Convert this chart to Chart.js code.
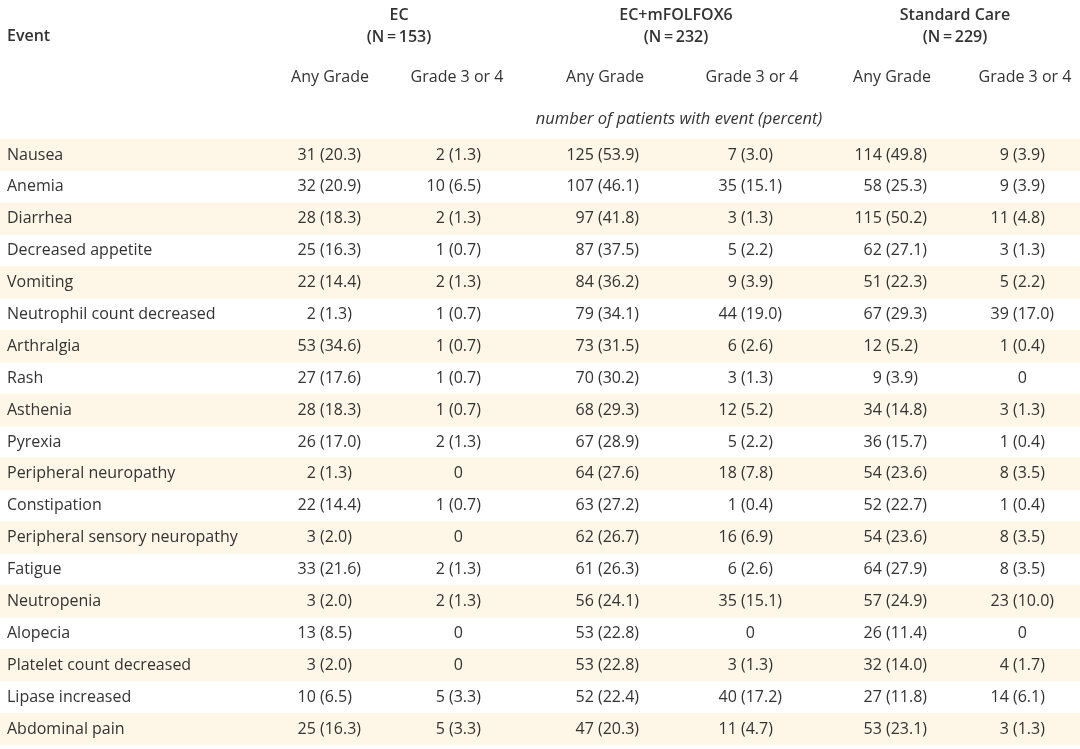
<!DOCTYPE html>
<html>
<head>
<meta charset="utf-8">
<script src="https://cdn.jsdelivr.net/npm/chart.js@4.4.1/dist/chart.umd.min.js"></script>
<style>
  html, body { margin: 0; padding: 0; background: #fff; }
  #wrap { width: 1080px; height: 749px; position: relative; }
</style>
</head>
<body>
<div id="wrap"><canvas id="aeTable"></canvas></div>
<script>
const events = [
    'Nausea', 'Anemia', 'Diarrhea', 'Decreased appetite', 'Vomiting',
    'Neutrophil count decreased', 'Arthralgia', 'Rash', 'Asthenia', 'Pyrexia',
    'Peripheral neuropathy', 'Constipation', 'Peripheral sensory neuropathy',
    'Fatigue', 'Neutropenia', 'Alopecia', 'Platelet count decreased',
    'Lipase increased', 'Abdominal pain'
];

// EC (N=153)
const ecAnyN     = [31, 32, 28, 25, 22, 2, 53, 27, 28, 26, 2, 22, 3, 33, 3, 13, 3, 10, 25];
const ecAnyPct   = [20.3, 20.9, 18.3, 16.3, 14.4, 1.3, 34.6, 17.6, 18.3, 17.0, 1.3, 14.4, 2.0, 21.6, 2.0, 8.5, 2.0, 6.5, 16.3];
const ecG34N     = [2, 10, 2, 1, 2, 1, 1, 1, 1, 2, 0, 1, 0, 2, 2, 0, 0, 5, 5];
const ecG34Pct   = [1.3, 6.5, 1.3, 0.7, 1.3, 0.7, 0.7, 0.7, 0.7, 1.3, null, 0.7, null, 1.3, 1.3, null, null, 3.3, 3.3];

// EC+mFOLFOX6 (N=232)
const foxAnyN    = [125, 107, 97, 87, 84, 79, 73, 70, 68, 67, 64, 63, 62, 61, 56, 53, 53, 52, 47];
const foxAnyPct  = [53.9, 46.1, 41.8, 37.5, 36.2, 34.1, 31.5, 30.2, 29.3, 28.9, 27.6, 27.2, 26.7, 26.3, 24.1, 22.8, 22.8, 22.4, 20.3];
const foxG34N    = [7, 35, 3, 5, 9, 44, 6, 3, 12, 5, 18, 1, 16, 6, 35, 0, 3, 40, 11];
const foxG34Pct  = [3.0, 15.1, 1.3, 2.2, 3.9, 19.0, 2.6, 1.3, 5.2, 2.2, 7.8, 0.4, 6.9, 2.6, 15.1, null, 1.3, 17.2, 4.7];

// Standard Care (N=229)
const scAnyN     = [114, 58, 115, 62, 51, 67, 12, 9, 34, 36, 54, 52, 54, 64, 57, 26, 32, 27, 53];
const scAnyPct   = [49.8, 25.3, 50.2, 27.1, 22.3, 29.3, 5.2, 3.9, 14.8, 15.7, 23.6, 22.7, 23.6, 27.9, 24.9, 11.4, 14.0, 11.8, 23.1];
const scG34N     = [9, 9, 11, 3, 5, 39, 1, 0, 3, 1, 8, 1, 8, 8, 23, 0, 4, 14, 3];
const scG34Pct   = [3.9, 3.9, 4.8, 1.3, 2.2, 17.0, 0.4, null, 1.3, 0.4, 3.5, 0.4, 3.5, 3.5, 10.0, null, 1.7, 6.1, 1.3];

const groupTitles = ['EC', 'EC+mFOLFOX6', 'Standard Care'];
const groupSizes  = ['(N\u2009=\u2009153)', '(N\u2009=\u2009232)', '(N\u2009=\u2009229)'];
const subHeaders  = ['Any Grade', 'Grade 3 or 4', 'Any Grade', 'Grade 3 or 4', 'Any Grade', 'Grade 3 or 4'];
const unitNote    = 'number of patients with event (percent)';

// layout (x in the 0..1080 units of the x scale); numbers line up on the "("
const columns = [
    { n: ecAnyN,  pct: ecAnyPct,  paren: 320, head: 330 },
    { n: ecG34N,  pct: ecG34Pct,  paren: 449, head: 457 },
    { n: foxAnyN, pct: foxAnyPct, paren: 598, head: 605 },
    { n: foxG34N, pct: foxG34Pct, paren: 741, head: 752 },
    { n: scAnyN,  pct: scAnyPct,  paren: 886, head: 892 },
    { n: scG34N,  pct: scG34Pct,  paren: 1013, head: 1025 }
];
const groupCenters = [399, 676, 955];

const textColor = '#333333';
const stripeColor = '#fef7e7';
const regular = '16px "Open Sans", "DejaVu Sans", sans-serif';
const bold = '600 16px "Open Sans", "DejaVu Sans", sans-serif';
const italic = 'italic 16.5px "Open Sans", "DejaVu Sans", sans-serif';

const tableText = {
    id: 'tableText',
    afterDatasetsDraw(chart) {
        const { ctx, chartArea, scales: { x, y } } = chart;
        const top = chartArea.top;
        ctx.save();
        ctx.fillStyle = textColor;
        ctx.textBaseline = 'middle';

        // header
        ctx.font = bold;
        ctx.textAlign = 'left';
        ctx.fillText('Event', x.getPixelForValue(7), top - 103);
        ctx.textAlign = 'center';
        groupTitles.forEach((t, i) => {
            ctx.fillText(t, x.getPixelForValue(groupCenters[i]), top - 124);
            ctx.fillText(groupSizes[i], x.getPixelForValue(groupCenters[i]), top - 102);
        });
        ctx.font = regular;
        subHeaders.forEach((t, i) => {
            ctx.fillText(t, x.getPixelForValue(columns[i].head), top - 62);
        });
        ctx.font = italic;
        ctx.fillText(unitNote, x.getPixelForValue(679), top - 20);

        // rows
        ctx.font = regular;
        const gap = ctx.measureText(' ').width;
        const lead = ctx.measureText('0 ').width;
        const whole = ctx.measureText('0 (0.0)').width;
        events.forEach((ev, r) => {
            const py = y.getPixelForValue(r);
            ctx.textAlign = 'left';
            ctx.fillText(ev, x.getPixelForValue(7), py);
            columns.forEach(col => {
                const px = x.getPixelForValue(col.paren);
                const n = col.n[r];
                if (n === 0 || col.pct[r] === null) {
                    ctx.textAlign = 'center';
                    ctx.fillText(String(n), px - lead + whole / 2, py);
                } else {
                    ctx.textAlign = 'right';
                    ctx.fillText(String(n), px - gap, py);
                    ctx.textAlign = 'left';
                    ctx.fillText('(' + col.pct[r].toFixed(1) + ')', px, py);
                }
            });
        });
        ctx.restore();
    }
};

function build() {
    new Chart(document.getElementById('aeTable'), {
        type: 'bar',
        data: {
            labels: events,
            datasets: [{
                data: events.map((e, i) => (i % 2 === 0 ? [0, 1080] : null)),
                backgroundColor: stripeColor,
                borderWidth: 0,
                barPercentage: 1,
                categoryPercentage: 1
            }]
        },
        options: {
            indexAxis: 'y',
            responsive: true,
            maintainAspectRatio: false,
            animation: false,
            layout: { padding: { top: 139, bottom: 4, left: 0, right: 0 } },
            plugins: {
                legend: { display: false },
                tooltip: { enabled: false }
            },
            scales: {
                x: { type: 'linear', min: 0, max: 1080, display: false },
                y: { type: 'category', display: false }
            }
        },
        plugins: [tableText]
    });
}

Promise.all([
    document.fonts.load(regular),
    document.fonts.load(bold),
    document.fonts.load(italic)
]).then(build, build);
</script>
</body>
</html>
